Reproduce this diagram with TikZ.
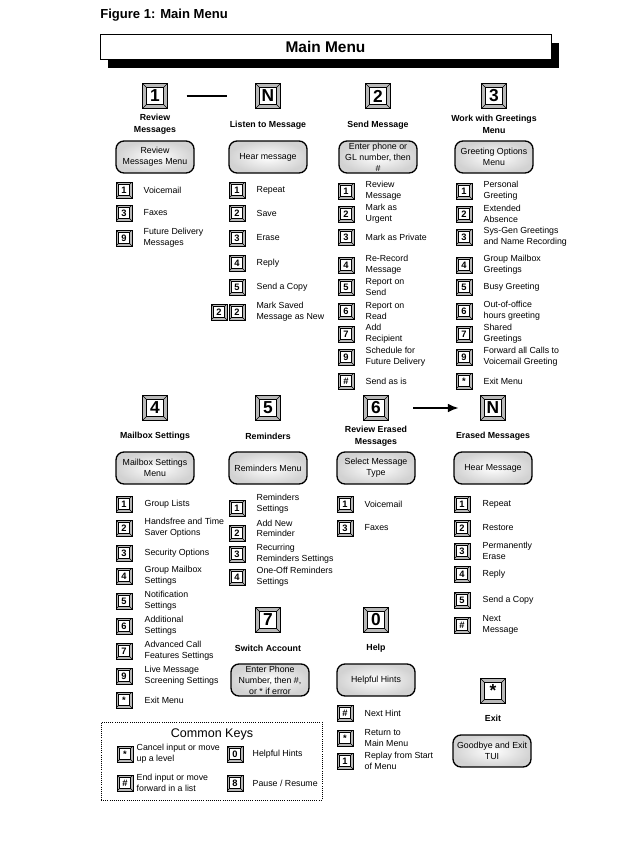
\documentclass[tikz,border=0pt]{standalone}
\usepackage{fontspec}
\setmainfont{Liberation Sans}
\usetikzlibrary{arrows.meta, positioning, shadows}

\tikzset{
    keyface/.style = {path picture = {
        \draw[line width = 0.4pt, fill = white]
            ([shift = {(#1, #1)}] path picture bounding box.south west) rectangle
            ([shift = {(-#1, -#1)}] path picture bounding box.north east);
        \draw[line width = 0.3pt]
            (path picture bounding box.south west) -- ++(#1, #1)
            (path picture bounding box.south east) -- ++(-#1, #1)
            (path picture bounding box.north west) -- ++(#1, -#1)
            (path picture bounding box.north east) -- ++(-#1, -#1);
    }},
}

\begin{document}
\begin{tikzpicture}[
        x = 0.75pt, y = -0.75pt,
        >= {Latex[length = 8pt, width = 6.5pt]},
        every node/.style = {inner sep = 0pt, font = \fontsize{6.6}{8.2}\selectfont},
        bigkey/.style = {draw, line width = 0.8pt, fill = gray!55, minimum size = 18.75pt, keyface = 3pt, font = \fontsize{13}{14}\selectfont\bfseries},
        smallkey/.style = {draw, line width = 0.6pt, fill = gray!55, minimum size = 12pt, keyface = 2pt, font = \fontsize{7}{8}\selectfont\bfseries},
        heading/.style = {align = center, font = \fontsize{6.6}{9}\selectfont\bfseries},
        menubox/.style = {draw, line width = 1pt, rounded corners = 6pt, minimum width = 58.5pt, minimum height = 24pt, inner color = white, outer color = gray!35, align = center},
        choice/.style = {align = left},
        link/.style = {line width = 1.3pt}
    ]

    \useasboundingbox (0, 0) rectangle (643, 843);

    \node[anchor = west, font = \fontsize{9.8}{11}\selectfont\bfseries] (fig) at (100, 15) {Figure 1: Main Menu};
    \node[draw, line width = 0.7pt, fill = white, minimum width = 338.25pt, minimum height = 18.75pt,
          font = \fontsize{11.6}{13}\selectfont\bfseries,
          drop shadow = {shadow xshift = 6pt, shadow yshift = -6.75pt, fill = black, opacity = 1}] (main) at (325.5, 46.5) {Main Menu};

    % first row of menus
    \node[bigkey] (rv) at (155, 96) {1};
    \node[bigkey] (ls) at (268, 96) {N};
    \node[bigkey] (sd) at (378, 96) {2};
    \node[bigkey] (gr) at (494, 96) {3};

    \node[heading] (rvh) at (155, 124) {Review\\Messages};
    \node[heading] (lsh) at (268, 125) {Listen to Message};
    \node[heading] (sdh) at (378, 125) {Send Message};
    \node[heading] (grh) at (494, 124) {Work with Greetings\\Menu};

    \node[menubox] (rvb) at (155, 157) {Review\\Messages Menu};
    \node[menubox] (lsb) at (268, 157) {Hear message};
    \node[menubox] (sdb) at (378, 157) {Enter phone or\\GL number, then\\\#};
    \node[menubox] (grb) at (494, 157) {Greeting Options\\Menu};

    \draw[link, shorten <= 14pt, shorten >= 21pt] (rv) -- (ls);

    % review messages
    \node[smallkey] (rv1) at (124, 190) {1};
    \node[smallkey] (rv3) at (124, 213) {3};
    \node[smallkey] (rv9) at (124, 238) {9};
    \node[choice, right = 8.25pt of rv1] (rv1t) {Voicemail};
    \node[choice, right = 8.25pt of rv3] (rv3t) {Faxes};
    \node[choice, right = 8.25pt of rv9] (rv9t) {Future Delivery\\Messages};

    % listen to message
    \node[smallkey] (ls1) at (237, 190) {1};
    \node[smallkey] (ls2) at (237, 213) {2};
    \node[smallkey] (ls3) at (237, 238) {3};
    \node[smallkey] (ls4) at (237, 263) {4};
    \node[smallkey] (ls5) at (237, 287) {5};
    \node[smallkey] (ls22) at (237, 312) {2};
    \node[smallkey] (ls22a) at (219, 312) {2};
    \node[choice, right = 8.25pt of ls1] (ls1t) {Repeat};
    \node[choice, right = 8.25pt of ls2] (ls2t) {Save};
    \node[choice, right = 8.25pt of ls3] (ls3t) {Erase};
    \node[choice, right = 8.25pt of ls4] (ls4t) {Reply};
    \node[choice, right = 8.25pt of ls5] (ls5t) {Send a Copy};
    \node[choice, right = 8.25pt of ls22] (ls22t) {Mark Saved\\Message as New};

    % send message
    \node[smallkey] (sd1) at (346, 191) {1};
    \node[smallkey] (sd2) at (346, 214) {2};
    \node[smallkey] (sd3) at (346, 237) {3};
    \node[smallkey] (sd4) at (346, 265) {4};
    \node[smallkey] (sd5) at (346, 287) {5};
    \node[smallkey] (sd6) at (346, 311) {6};
    \node[smallkey] (sd7) at (346, 334) {7};
    \node[smallkey] (sd9) at (346, 357) {9};
    \node[smallkey] (sdx) at (346, 381) {\#};
    \node[choice, right = 8.25pt of sd1] (sd1t) {Review\\Message};
    \node[choice, right = 8.25pt of sd2] (sd2t) {Mark as\\Urgent};
    \node[choice, right = 8.25pt of sd3] (sd3t) {Mark as Private};
    \node[choice, right = 8.25pt of sd4] (sd4t) {Re-Record\\Message};
    \node[choice, right = 8.25pt of sd5] (sd5t) {Report on\\Send};
    \node[choice, right = 8.25pt of sd6] (sd6t) {Report on\\Read};
    \node[choice, right = 8.25pt of sd7] (sd7t) {Add\\Recipient};
    \node[choice, right = 8.25pt of sd9] (sd9t) {Schedule for\\Future Delivery};
    \node[choice, right = 8.25pt of sdx] (sdxt) {Send as is};

    % greetings
    \node[smallkey] (gr1) at (464, 191) {1};
    \node[smallkey] (gr2) at (464, 214) {2};
    \node[smallkey] (gr3) at (464, 237) {3};
    \node[smallkey] (gr4) at (464, 265) {4};
    \node[smallkey] (gr5) at (464, 287) {5};
    \node[smallkey] (gr6) at (464, 311) {6};
    \node[smallkey] (gr7) at (464, 334) {7};
    \node[smallkey] (gr9) at (464, 357) {9};
    \node[smallkey] (grx) at (464, 381) {*};
    \node[choice, right = 8.25pt of gr1] (gr1t) {Personal\\Greeting};
    \node[choice, right = 8.25pt of gr2] (gr2t) {Extended\\Absence};
    \node[choice, right = 8.25pt of gr3] (gr3t) {Sys-Gen Greetings\\and Name Recording};
    \node[choice, right = 8.25pt of gr4] (gr4t) {Group Mailbox\\Greetings};
    \node[choice, right = 8.25pt of gr5] (gr5t) {Busy Greeting};
    \node[choice, right = 8.25pt of gr6] (gr6t) {Out-of-office\\hours greeting};
    \node[choice, right = 8.25pt of gr7] (gr7t) {Shared\\Greetings};
    \node[choice, right = 8.25pt of gr9] (gr9t) {Forward all Calls to\\Voicemail Greeting};
    \node[choice, right = 8.25pt of grx] (grxt) {Exit Menu};

    % second row of menus
    \node[bigkey] (mb) at (155, 408) {4};
    \node[bigkey] (rm) at (268, 408) {5};
    \node[bigkey] (re) at (376, 408) {6};
    \node[bigkey] (em) at (493, 408) {N};

    \node[heading] (mbh) at (155, 436) {Mailbox Settings};
    \node[heading] (rmh) at (268, 436) {Reminders};
    \node[heading] (reh) at (376, 436) {Review Erased\\Messages};
    \node[heading] (emh) at (493, 436) {Erased Messages};

    \node[menubox] (mbb) at (155, 468) {Mailbox Settings\\Menu};
    \node[menubox] (rmb) at (268, 468) {Reminders Menu};
    \node[menubox] (reb) at (376, 468) {Select Message\\Type};
    \node[menubox] (emb) at (493, 468) {Hear Message};

    \draw[link, ->, shorten <= 18pt, shorten >= 16pt] (re) -- (em);

    % mailbox settings
    \node[smallkey] (mb1) at (124, 504) {1};
    \node[smallkey] (mb2) at (124, 528) {2};
    \node[smallkey] (mb3) at (124, 553) {3};
    \node[smallkey] (mb4) at (124, 576) {4};
    \node[smallkey] (mb5) at (124, 601) {5};
    \node[smallkey] (mb6) at (124, 626) {6};
    \node[smallkey] (mb7) at (124, 651) {7};
    \node[smallkey] (mb9) at (124, 676) {9};
    \node[smallkey] (mbx) at (124, 700) {*};
    \node[choice, right = 9pt of mb1] (mb1t) {Group Lists};
    \node[choice, right = 9pt of mb2] (mb2t) {Handsfree and Time\\Saver Options};
    \node[choice, right = 9pt of mb3] (mb3t) {Security Options};
    \node[choice, right = 9pt of mb4] (mb4t) {Group Mailbox\\Settings};
    \node[choice, right = 9pt of mb5] (mb5t) {Notification\\Settings};
    \node[choice, right = 9pt of mb6] (mb6t) {Additional\\Settings};
    \node[choice, right = 9pt of mb7] (mb7t) {Advanced Call\\Features Settings};
    \node[choice, right = 9pt of mb9] (mb9t) {Live Message\\Screening Settings};
    \node[choice, right = 9pt of mbx] (mbxt) {Exit Menu};

    % reminders
    \node[smallkey] (rm1) at (237, 508) {1};
    \node[smallkey] (rm2) at (237, 533) {2};
    \node[smallkey] (rm3) at (237, 554) {3};
    \node[smallkey] (rm4) at (237, 577) {4};
    \node[choice, right = 8.25pt of rm1, yshift = 3pt] (rm1t) {Reminders\\Settings};
    \node[choice, right = 8.25pt of rm2, yshift = 3.5pt] (rm2t) {Add New\\Reminder};
    \node[choice, right = 8.25pt of rm3] (rm3t) {Recurring\\Reminders Settings};
    \node[choice, right = 8.25pt of rm4] (rm4t) {One-Off Reminders\\Settings};

    % review erased messages
    \node[smallkey] (re1) at (345, 504) {1};
    \node[smallkey] (re3) at (345, 528) {3};
    \node[choice, right = 8.25pt of re1] (re1t) {Voicemail};
    \node[choice, right = 8.25pt of re3] (re3t) {Faxes};

    % erased messages
    \node[smallkey] (em1) at (462, 504) {1};
    \node[smallkey] (em2) at (462, 528) {2};
    \node[smallkey] (em3) at (462, 551) {3};
    \node[smallkey] (em4) at (462, 574) {4};
    \node[smallkey] (em5) at (462, 600) {5};
    \node[smallkey] (emx) at (462, 625) {\#};
    \node[choice, right = 9pt of em1] (em1t) {Repeat};
    \node[choice, right = 9pt of em2] (em2t) {Restore};
    \node[choice, right = 9pt of em3] (em3t) {Permanently\\Erase};
    \node[choice, right = 9pt of em4] (em4t) {Reply};
    \node[choice, right = 9pt of em5] (em5t) {Send a Copy};
    \node[choice, right = 9pt of emx] (emxt) {Next\\Message};

    % third row of menus
    \node[bigkey] (sw) at (268, 620) {7};
    \node[bigkey] (hp) at (376, 620) {0};
    \node[bigkey] (ex) at (493, 691) {*};

    \node[heading] (swh) at (268, 648) {Switch Account};
    \node[heading] (hph) at (376, 648) {Help};
    \node[heading] (exh) at (493, 718) {Exit};

    \node[menubox] (swb) at (270, 680) {Enter Phone\\Number, then \#,\\or * if error};
    \node[menubox] (hpb) at (376, 680) {Helpful Hints};
    \node[menubox] (exb) at (492, 751) {Goodbye and Exit\\TUI};

    % help
    \node[smallkey] (hpx) at (345, 713) {\#};
    \node[smallkey] (hps) at (345, 738) {*};
    \node[smallkey] (hp1) at (345, 761) {1};
    \node[choice, right = 8.25pt of hpx] (hpxt) {Next Hint};
    \node[choice, right = 8.25pt of hps] (hpst) {Return to\\Main Menu};
    \node[choice, right = 8.25pt of hp1] (hp1t) {Replay from Start\\of Menu};

    % common keys
    \node[draw, line width = 0.6pt, dash pattern = on 0.6pt off 1pt, minimum width = 165.75pt, minimum height = 58.5pt] (ck) at (211.5, 761) {};
    \node[font = \fontsize{9.4}{11}\selectfont] (ckh) at (212, 734) {Common Keys};
    \node[smallkey] (cks) at (125, 754) {*};
    \node[smallkey] (ckx) at (125, 783) {\#};
    \node[smallkey] (ck0) at (235, 754) {0};
    \node[smallkey] (ck8) at (235, 783) {8};
    \node[choice, right = 2.25pt of cks] (ckst) {Cancel input or move\\up a level};
    \node[choice, right = 2.25pt of ckx] (ckxt) {End input or move\\forward in a list};
    \node[choice, right = 6.75pt of ck0] (ck0t) {Helpful Hints};
    \node[choice, right = 6.75pt of ck8] (ck8t) {Pause / Resume};
\end{tikzpicture}
\end{document}
